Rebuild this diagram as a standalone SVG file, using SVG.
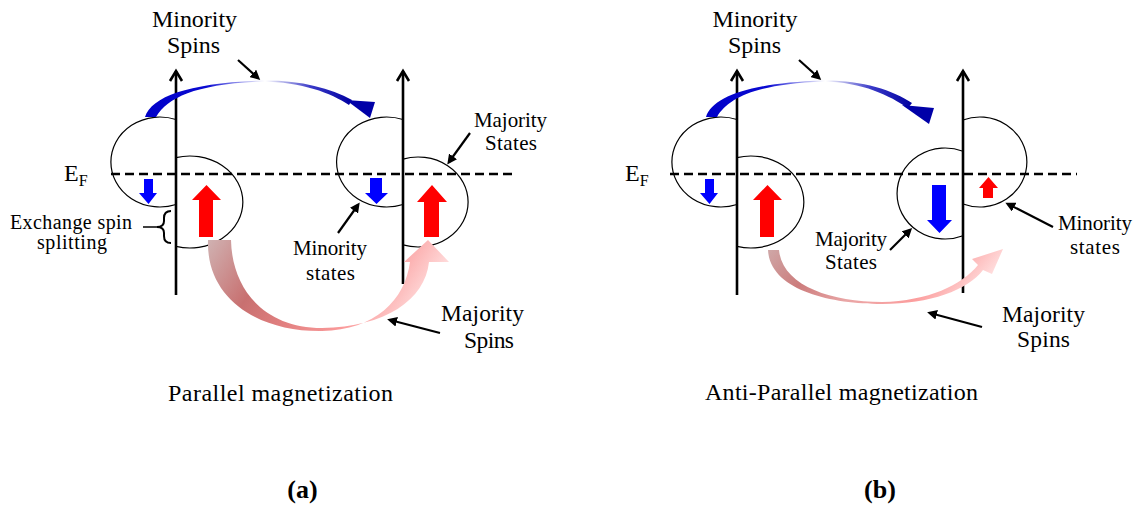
<svg xmlns="http://www.w3.org/2000/svg" width="1145" height="508" viewBox="0 0 1145 508">
<style>
.t{font-family:"Liberation Serif","Times New Roman",serif;fill:#000}
.lobe{fill:none;stroke:#000;stroke-width:1.2}
.axis{fill:none;stroke:#000;stroke-width:2.6}
.ef{fill:none;stroke:#000;stroke-width:2.4;stroke-dasharray:9 5}
.ptr{fill:none;stroke:#000;stroke-width:2.2;marker-end:url(#ah)}
.blue{fill:#0000ff}
.red{fill:#ff0000}
</style>
<defs>
<marker id="ah" viewBox="0 0 10 10" refX="7" refY="5" markerWidth="4.5" markerHeight="4.5" orient="auto" markerUnits="strokeWidth">
<path d="M0,0 L10,5 L0,10 z" fill="#000"/>
</marker>
<linearGradient id="gBlue" x1="0" y1="0" x2="1" y2="0">
<stop offset="0" stop-color="#0000c8"/>
<stop offset="0.3" stop-color="#0a0ad2"/>
<stop offset="0.58" stop-color="#ffffff"/>
<stop offset="0.8" stop-color="#3a3ac8"/>
<stop offset="1" stop-color="#0000a0"/>
</linearGradient>
<linearGradient id="gRedA" x1="0" y1="0" x2="1" y2="0.25">
<stop offset="0" stop-color="#d0b2b2"/>
<stop offset="0.3" stop-color="#c87070"/>
<stop offset="0.5" stop-color="#e07f7f"/>
<stop offset="0.75" stop-color="#fa9a9a"/>
<stop offset="1" stop-color="#ffdcdc"/>
</linearGradient>
<linearGradient id="gRedB" x1="0" y1="0" x2="1" y2="0.2">
<stop offset="0" stop-color="#cfa8a8"/>
<stop offset="0.25" stop-color="#cc7c7c"/>
<stop offset="0.5" stop-color="#e9a6a6"/>
<stop offset="0.78" stop-color="#fc9e9e"/>
<stop offset="1" stop-color="#ffdcdc"/>
</linearGradient>
</defs>

<!-- Panel (a) -->
<g id="a-fermi-level">
<line class="ef" x1="111" y1="174" x2="515" y2="174"/>
<text class="t" x="64" y="181" font-size="24">E<tspan font-size="16" dy="5">F</tspan></text>
</g>
<g id="a-left-axis">
<line class="axis" x1="176" y1="71" x2="176" y2="295"/>
<path class="axis" d="M170,81 L176,71 L182,81"/>
</g>
<g id="a-left-minority-lobe">
<path class="lobe" d="M176,119.5 A49,45 0 1 0 176,204.5"/>
<polygon class="blue" points="144,179 153,179 153,193 157,193 148.5,204 139,193 144,193"/>
</g>
<g id="a-left-majority-lobe">
<path class="lobe" d="M176,157.6 A53,46 0 1 1 176,246.4"/>
<polygon class="red" points="199,237 213,237 213,200 221,200 206.5,185 192,200 199,200"/>
</g>
<g id="a-exchange-splitting">
<path d="M171,211 Q164,211 164,218 L164,221 Q164,227 157,227 Q164,227 164,233 L164,236 Q164,243 171,243" fill="none" stroke="#000" stroke-width="2"/>
<line x1="143" y1="227" x2="157" y2="227" stroke="#000" stroke-width="1.5"/>
<text class="t" x="10" y="229" font-size="20" textLength="122">Exchange spin</text>
<text class="t" x="72" y="249" font-size="20" text-anchor="middle" textLength="70">splitting</text>
</g>
<g id="a-right-axis">
<line class="axis" x1="403" y1="71" x2="403" y2="284"/>
<path class="axis" d="M397,81 L403,71 L409,81"/>
</g>
<g id="a-right-minority-lobe">
<path class="lobe" d="M403,119.5 A50,45 0 1 0 403,204.5"/>
<polygon class="blue" points="370,178 382,178 382,193 388,193 376.5,204 365,193 370,193"/>
</g>
<g id="a-right-majority-lobe">
<path class="lobe" d="M403,159.1 A50,45 0 1 1 403,244.9"/>
<polygon class="red" points="424,237 439,237 439,202 447,202 432,185 417,202 424,202"/>
</g>
<g id="a-labels">
<text class="t" x="194.5" y="27" font-size="24" text-anchor="middle" textLength="85">Minority</text>
<text class="t" x="193.5" y="53" font-size="24" text-anchor="middle" textLength="53">Spins</text>
<text class="t" x="510.5" y="127" font-size="21" text-anchor="middle" textLength="73">Majority</text>
<text class="t" x="511" y="150" font-size="21" text-anchor="middle" textLength="52">States</text>
<text class="t" x="330" y="255" font-size="21" text-anchor="middle" textLength="74">Minority</text>
<text class="t" x="330.5" y="280" font-size="21" text-anchor="middle" textLength="49">states</text>
<text class="t" x="482.5" y="321" font-size="23.5" text-anchor="middle" textLength="83">Majority</text>
<text class="t" x="489" y="348" font-size="23.5" text-anchor="middle" textLength="50">Spins</text>
<text class="t" x="168" y="401" font-size="24" textLength="225">Parallel magnetization</text>
<text class="t" x="302.5" y="498" font-size="26" font-weight="bold" text-anchor="middle">(a)</text>
</g>

<!-- Panel (b) -->
<g id="b-fermi-level">
<line class="ef" x1="670" y1="174" x2="1077" y2="174"/>
<text class="t" x="625" y="181" font-size="24">E<tspan font-size="16" dy="5">F</tspan></text>
</g>
<g id="b-left-axis">
<line class="axis" x1="737" y1="71" x2="737" y2="295"/>
<path class="axis" d="M731,81 L737,71 L743,81"/>
</g>
<g id="b-left-minority-lobe">
<path class="lobe" d="M737,119.5 A49,45 0 1 0 737,204.5"/>
<polygon class="blue" points="705,179 714,179 714,193 718,193 709.5,204 700,193 705,193"/>
</g>
<g id="b-left-majority-lobe">
<path class="lobe" d="M737,157.6 A53,46 0 1 1 737,246.4"/>
<polygon class="red" points="760,237 774,237 774,200 782,200 767.5,185 753,200 760,200"/>
</g>
<g id="b-right-axis">
<line class="axis" x1="963" y1="71" x2="963" y2="293"/>
<path class="axis" d="M957,81 L963,71 L969,81"/>
</g>
<g id="b-right-majority-lobe">
<path class="lobe" d="M963,151.3 A48,45.5 0 1 0 963,235.7"/>
<polygon class="blue" points="932,185 946,185 946,220 952,220 939.5,233 927,220 932,220"/>
</g>
<g id="b-right-minority-lobe">
<path class="lobe" d="M963,120 A47,45 0 1 1 963,204"/>
<polygon class="red" points="983,198 993,198 993,188 998,188 988.5,177 979,188 983,188"/>
</g>
<g id="b-labels">
<text class="t" x="755" y="27" font-size="24" text-anchor="middle" textLength="85">Minority</text>
<text class="t" x="754.5" y="53" font-size="24" text-anchor="middle" textLength="53">Spins</text>
<text class="t" x="851" y="246" font-size="21" text-anchor="middle" textLength="72">Majority</text>
<text class="t" x="851" y="269" font-size="21" text-anchor="middle" textLength="52">States</text>
<text class="t" x="1095" y="230" font-size="21" text-anchor="middle" textLength="74">Minority</text>
<text class="t" x="1095" y="254" font-size="21" text-anchor="middle" textLength="50">states</text>
<text class="t" x="1043.5" y="322" font-size="23.5" text-anchor="middle" textLength="83">Majority</text>
<text class="t" x="1043.5" y="347" font-size="23.5" text-anchor="middle" textLength="53">Spins</text>
<text class="t" x="705" y="400" font-size="24" textLength="273">Anti-Parallel magnetization</text>
<text class="t" x="880" y="498" font-size="26" font-weight="bold" text-anchor="middle">(b)</text>
</g>

<!-- Connectors -->
<g id="connectors">
<g id="a-minority-transfer">
<path fill="url(#gBlue)" d="M145,117 C 152,96 190,83 262,80.5 C 300,80 330,88 352,100 L349,105 C 331,93 302,82 262,81.5 C 197,84 168,97 156,117 Z"/>
<polygon fill="#0000a8" points="346,100 375,102 370,118"/>
</g>
<g id="b-minority-transfer">
<path fill="url(#gBlue)" d="M706,117 C 713,96 751,83 823,80.5 C 861,80 893,90 912,103 L908,108 C 890,96 863,82 823,81.5 C 758,84 729,97 717,117 Z"/>
<polygon fill="#0000a8" points="902,105 934,108 929,124"/>
</g>
<g id="a-majority-transfer">
<path fill="url(#gRedA)" d="M208,240 C 206,300 260,332 322,331 C 375,330 405,300 410,262 L404,262 L428,240 L449,262 L429,262 C 425,300 385,327 322,328 C 265,328 232,290 231,240 Z"/>
</g>
<g id="b-majority-transfer">
<path fill="url(#gRedB)" d="M768,250 C 770,290 830,304 882,304 C 930,304 968,290 983,270 L992,274 L1003,249 L972,259 L978,265 C 962,285 928,301 882,302 C 830,302 782,285 779,250 Z"/>
</g>
<line class="ptr" x1="238" y1="60" x2="258" y2="78"/>
<line class="ptr" x1="470" y1="133" x2="449" y2="162"/>
<line class="ptr" x1="338" y1="233" x2="358" y2="205"/>
<line class="ptr" x1="440" y1="333" x2="390" y2="320"/>
<line class="ptr" x1="799" y1="60" x2="819" y2="78"/>
<line class="ptr" x1="890" y1="250" x2="910" y2="230"/>
<line class="ptr" x1="1053" y1="227" x2="1008" y2="204"/>
<line class="ptr" x1="982" y1="327" x2="930" y2="313"/>
</g>
</svg>
